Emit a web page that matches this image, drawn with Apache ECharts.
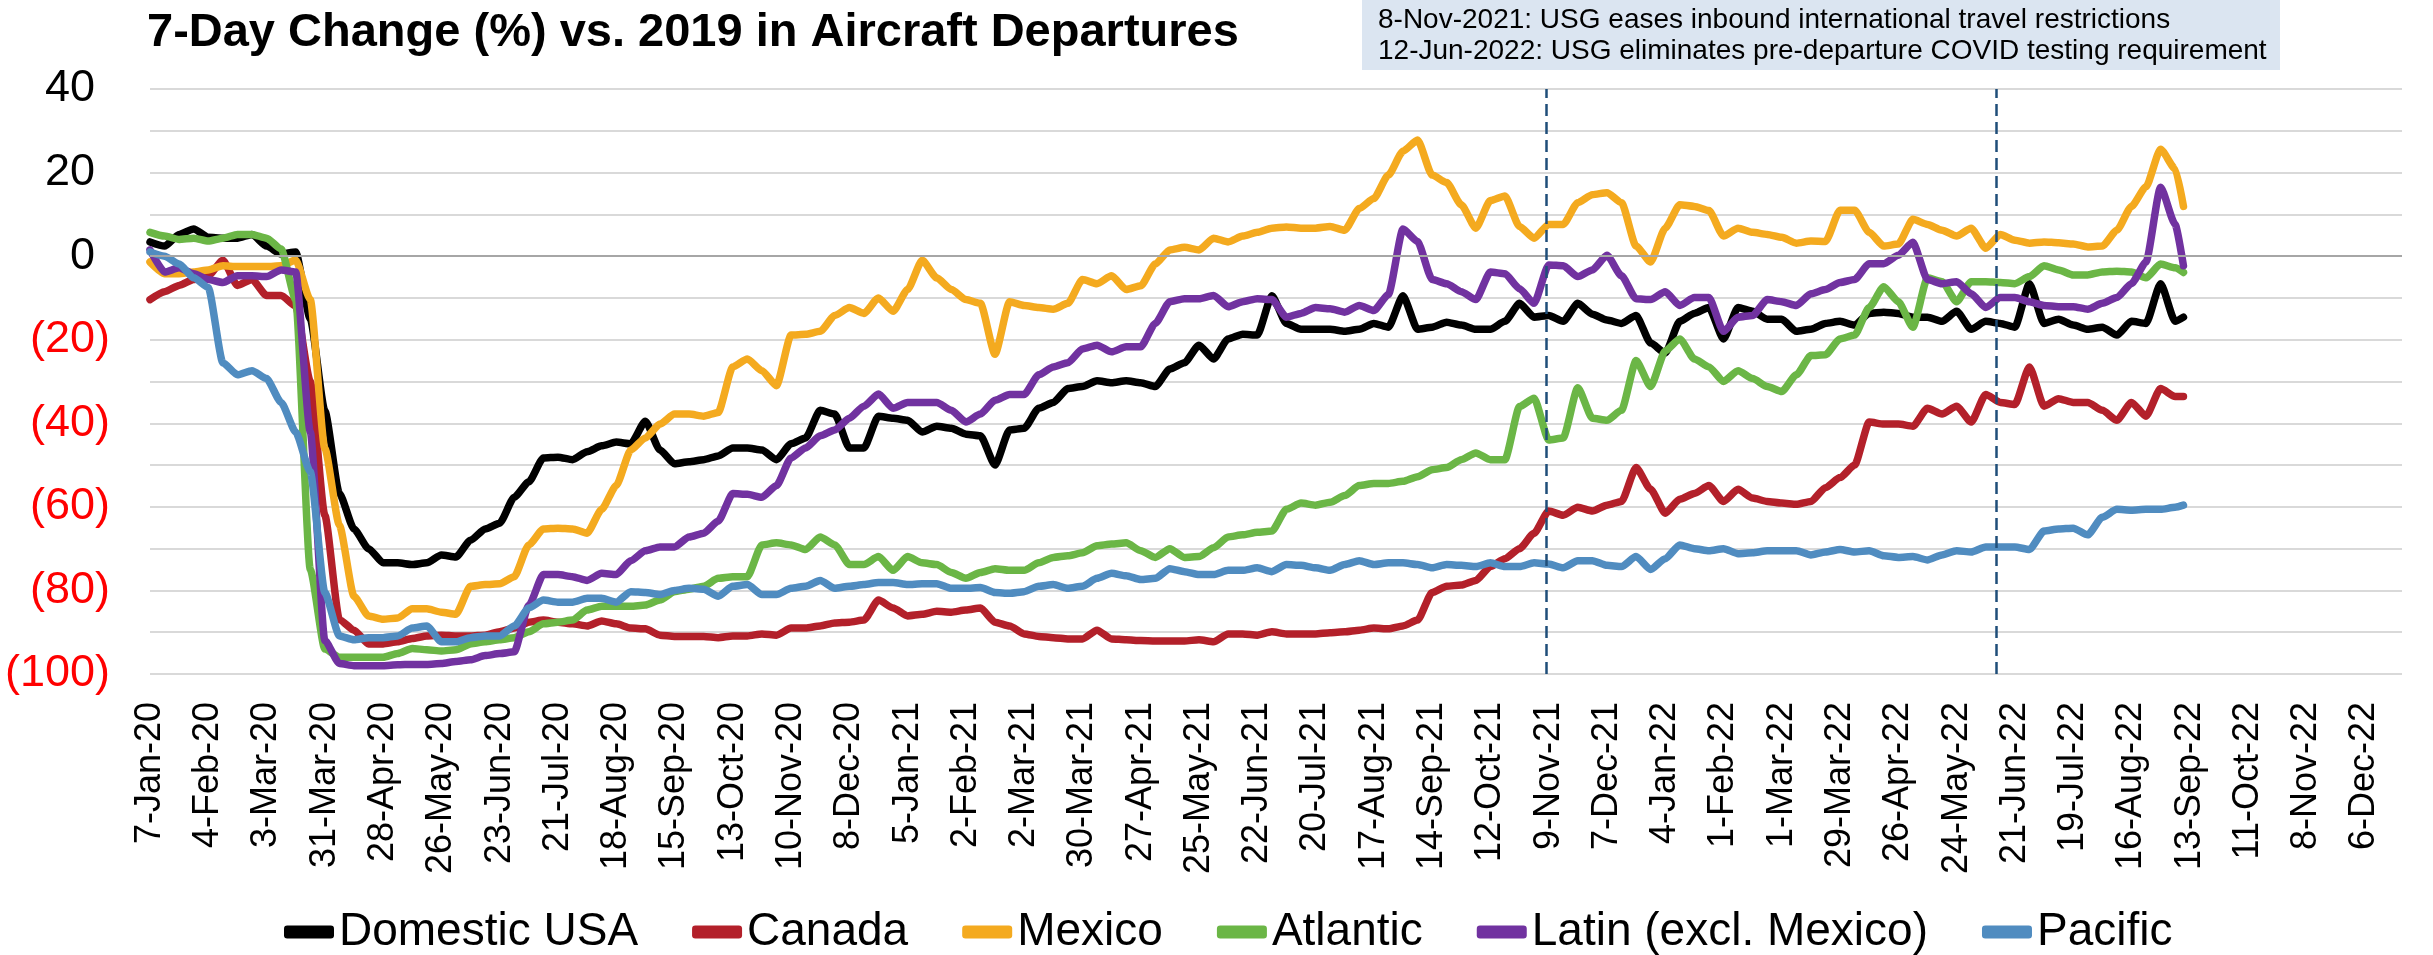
<!DOCTYPE html>
<html>
<head>
<meta charset="utf-8">
<title>7-Day Change (%) vs. 2019 in Aircraft Departures</title>
<script src="https://cdn.jsdelivr.net/npm/echarts@6/dist/echarts.min.js"></script>
<style>
  html, body { margin: 0; padding: 0; background: #ffffff; }
  #chart { width: 2433px; height: 955px; }
</style>
</head>
<body>
<div id="chart"></div>
<script>
// Sample dates, counted in days after 7-Jan-2020 (weekly, plus the last day of data)
const sampleDays = [
  0, 7, 14, 21, 28, 35, 42, 49, 56, 63, 70, 77, 84, 91, 98, 105, 112, 119, 126, 133,
  140, 147, 154, 161, 168, 175, 182, 189, 196, 203, 210, 217, 224, 231, 238, 245, 252, 259, 266, 273,
  280, 287, 294, 301, 308, 315, 322, 329, 336, 343, 350, 357, 364, 371, 378, 385, 392, 399, 406, 413,
  420, 427, 434, 441, 448, 455, 462, 469, 476, 483, 490, 497, 504, 511, 518, 525, 532, 539, 546, 553,
  560, 567, 574, 581, 588, 595, 602, 609, 616, 623, 630, 637, 644, 651, 658, 665, 672, 679, 686, 693,
  700, 707, 714, 721, 728, 735, 742, 749, 756, 763, 770, 777, 784, 791, 798, 805, 812, 819, 826, 833,
  840, 847, 854, 861, 868, 875, 882, 889, 896, 903, 910, 917, 924, 931, 938, 945, 952, 959, 966, 973,
  977
];

// 7-day change (%) vs. 2019, one value per sample date
const domesticUSA = [
  3.4, 2.4, 5.2, 6.5, 4.5, 4.3, 4.3, 5.2, 2.4, 0.5, 1.0, -15, -37, -56.8, -65.3, -70, -73.4, -73.4, -73.8, -73.4,
  -71.5, -72, -68, -65.3, -63.9, -57.7, -54, -48.3,
  -48.1, -48.7, -46.8, -45.4, -44.5, -44.9, -39.5, -46.4, -49.7, -49.2, -48.7, -47.8, -45.9, -45.9, -46.4, -48.7,
  -44.9, -43.5, -36.9, -37.8, -45.9, -45.9, -38.3, -38.8, -39.3, -42.1, -40.7, -41.2,
  -42.6, -43, -50, -41.6, -41.2, -36.4, -35, -31.7, -31.2, -29.8, -30.3, -29.8, -30.3, -31.2, -27, -25.5,
  -21.3, -24.6, -19.8, -18.7, -18.9, -9.5, -16.1, -17.5, -17.5, -17.5, -18, -17.5, -16.1,
  -17, -9.5, -17.5, -17, -15.8, -16.5, -17.5, -17.5, -15.6, -11.3, -14.6, -14.2, -15.6, -11.3, -13.9, -15.3,
  -16.1, -14.2, -20.8, -23.2, -15.6, -13.7, -12.3, -19.8, -12.3, -13.2, -15.1,
  -15.1, -18, -17.5, -16.1, -15.6, -16.5, -13.7, -13.4, -13.7, -14.6, -14.6, -15.6, -13.2, -17.5, -15.6, -16.1,
  -17, -6.6, -16.1, -15.1, -16.5, -17.5, -17, -18.9, -15.6, -16.1, -6.6, -15.6,
  -14.6
];
const canada = [
  -10.4, -8.5, -7, -5.6, -4.7, -1, -7, -5.6, -9.4, -9.4, -12, -30, -62, -87, -89.5, -92.8, -92.8, -92.3, -91.5, -90.9,
  -90.7, -90.9, -90.9, -90.7, -89.9, -89, -87.6, -87.1,
  -87.6, -88, -88.5, -87.3, -88, -89, -89.2, -90.7, -91, -91, -91, -91.3, -90.9, -90.9, -90.4, -90.7,
  -89, -89, -88.5, -87.8, -87.6, -87.1, -82.3, -84.2, -86.1, -85.7, -85, -85.2,
  -84.7, -84.2, -87.6, -88.5, -90.4, -91, -91.3, -91.6, -91.6, -89.5, -91.6, -91.8, -92, -92.1, -92.1, -92.1,
  -91.8, -92.3, -90.4, -90.4, -90.7, -89.9, -90.4, -90.4, -90.4, -90.1, -89.9, -89.5, -89,
  -89.2, -88.5, -87.1, -80.5, -79, -78.7, -77.6, -74.3, -72.4, -70, -66.3, -61, -62, -60.1, -61, -59.6,
  -58.7, -50.6, -55.8, -61.5, -58.2, -56.8, -54.9, -58.7, -55.8, -57.9, -58.7,
  -59.1, -59.4, -58.7, -55.4, -53, -50, -39.7, -40.2, -40.2, -40.7, -36.4, -37.8, -35.9, -39.7, -33.1, -35,
  -35.5, -26.5, -35.9, -34.1, -35, -35, -36.9, -39.3, -35, -38.3, -31.7, -33.6,
  -33.6
];
const mexico = [
  -1.4, -4.2, -4.2, -3.8, -3.3, -2.3, -2.5, -2.5, -2.5, -2.3, -0.9, -10.4, -46, -64.4, -81.4, -86.1, -86.9, -86.6, -84.4, -84.4,
  -85.2, -85.7, -79, -78.6, -78.4, -76.7, -69.1, -65.3,
  -65.1, -65.3, -66.3, -60.6, -54.9, -46.4, -43.5, -40.2, -37.8, -37.8, -38.3, -37.4, -26.5, -24.6, -27.4, -31,
  -18.9, -18.7, -18, -14.2, -12.3, -13.7, -10, -13.2, -8, -1, -5.2, -8,
  -10.4, -11.3, -23.5, -10.9, -11.8, -12.3, -12.7, -11.3, -5.6, -6.6, -4.7, -8, -7.1, -1.9, 1.5, 2.1,
  1.5, 4.3, 3.4, 4.8, 5.7, 6.7, 7, 6.7, 6.7, 7.1, 6.2, 11.4, 13.8,
  19.4, 25.1, 27.8, 19.4, 17.6, 12.3, 6.7, 13.3, 14.4, 7.1, 4.3, 7.6, 7.6, 12.8, 14.7, 15.2,
  12.8, 2.4, -1.4, 6.7, 12.3, 11.9, 10.9, 4.8, 6.7, 5.7, 5.2,
  4.5, 3.1, 3.6, 3.5, 11, 11, 5.7, 2.4, 2.9, 8.8, 7.6, 6.2, 4.8, 6.7, 1.9, 5.2,
  3.8, 3.1, 3.4, 3.2, 2.9, 2.2, 2.4, 6.2, 11.9, 16.6, 25.6, 20.9,
  11.9
];
const atlantic = [
  5.7, 4.8, 4, 4.3, 3.6, 4.3, 5.2, 5.2, 4.3, 1.7, -10.4, -75, -94, -96, -96, -96, -96, -95.1, -93.9, -94.2,
  -94.5, -94.2, -92.8, -92.3, -91.8, -91.3, -89.9, -88,
  -87.6, -87.1, -84.7, -83.8, -83.8, -83.8, -83.5, -82.3, -80.3, -79.7, -79, -77.1, -76.7, -76.7, -69.1, -68.6,
  -69.1, -70.2, -67.2, -69.1, -73.8, -73.8, -71.9, -75.2, -71.9, -73.4, -73.8, -75.7,
  -77.1, -75.7, -74.8, -75.2, -75.2, -73.4, -72.1, -71.7, -71, -69.3, -68.9, -68.6, -70.5, -72.1, -70, -72.1,
  -71.9, -69.8, -67.2, -66.7, -66.1, -65.8, -60.6, -59.1, -59.6, -58.9, -57.3, -54.9, -54.4,
  -54.4, -53.9, -52.8, -51.1, -50.6, -48.7, -47.1, -48.7, -48.7, -36, -34, -44, -43.5, -31.5, -38.8, -39.3,
  -36.9, -25, -31.2, -22.7, -19.8, -24.6, -26.5, -30, -27.4, -29.3, -31.2,
  -32.4, -28.4, -23.8, -23.6, -19.8, -18.9, -12.3, -7.3, -10.9, -17, -5.2, -6.1, -10.9, -6.1, -6.1, -6.3,
  -6.6, -4.9, -2.3, -3.3, -4.5, -4.5, -3.8, -3.6, -3.8, -5.2, -1.9, -2.8,
  -3.9
];
const latinExclMexico = [
  1.5, -3.8, -2.8, -4.2, -5.6, -6.3, -4.7, -4.7, -4.9, -3.3, -3.8, -42, -92, -97.5, -98, -98, -98, -97.8, -97.7, -97.7,
  -97.5, -97, -96.6, -95.6, -95.1, -94.7, -83.6, -76.2,
  -76.2, -76.7, -77.6, -75.9, -76.2, -72.9, -70.5, -69.6, -69.6, -67.2, -66.3, -63.4, -56.8, -57, -57.7, -54.9,
  -48.3, -45.9, -43, -41.6, -38.8, -35.9, -33, -36.4, -35, -35, -35, -36.9,
  -39.7, -37.8, -34.5, -33.1, -33.1, -28.4, -26.5, -25.5, -22.2, -21.3, -22.9, -21.7, -21.7, -16.1, -10.9, -10.2,
  -10.2, -9.4, -12.1, -10.9, -10.2, -10.4, -14.6, -13.7, -12.3, -12.6, -13.4, -11.8, -13,
  -9.2, 6.5, 3.5, -5.6, -6.6, -8.5, -10.4, -3.8, -4.2, -7.8, -11.3, -2.1, -2.3, -4.9, -3.3, 0.2,
  -4.7, -10.2, -10.4, -8.5, -11.8, -9.9, -9.9, -18, -14.6, -14.2, -10.4,
  -10.9, -11.8, -9, -8, -6.3, -5.6, -1.8, -1.8, 0.2, 3.3, -5.6, -6.6, -6.1, -9, -12.3, -9.9,
  -9.9, -10.9, -11.8, -12.1, -12.1, -12.7, -11.3, -9.9, -6.6, -1.4, 16.5, 7.6,
  -2.3
];
const pacific = [
  1, 0, -1.9, -5.2, -7.5, -25.5, -28.4, -27.4, -29.3, -35, -42.1, -51.6, -80.5, -90.9, -91.8, -91.3, -91.3, -90.9, -89, -88.5,
  -92.3, -92.3, -91.3, -90.9, -90.9, -88.5, -84.2, -82.3,
  -82.8, -82.8, -81.9, -81.9, -82.8, -80.3, -80.5, -81, -80, -79.5, -79.7, -81.4, -79, -78.6, -81, -81,
  -79.5, -79, -77.6, -79.5, -79, -78.6, -78.1, -78.1, -78.6, -78.4, -78.4, -79.5,
  -79.5, -79.3, -80.5, -80.7, -80.3, -79, -78.6, -79.5, -79, -77.1, -75.9, -76.5, -77.4, -77.1, -74.8, -75.5,
  -76.2, -76.2, -75.2, -75.2, -74.6, -75.5, -73.8, -74, -74.6, -75.2, -73.8, -72.9, -73.8,
  -73.4, -73.4, -73.8, -74.6, -73.8, -74, -74.3, -73.4, -74.3, -74.3, -73.4, -73.7, -74.6, -72.9, -72.9, -74,
  -74.3, -71.9, -75, -72.4, -69.1, -70, -70.5, -70, -71.2, -71, -70.5,
  -70.5, -70.5, -71.5, -70.8, -70.2, -70.8, -70.5, -71.7, -72.1, -71.9, -72.7, -71.5, -70.5, -70.8, -69.6, -69.6,
  -69.6, -70.2, -65.8, -65.3, -65.1, -66.7, -62.5, -60.6, -60.8, -60.6, -60.6, -60.1,
  -59.6
];

const seriesNames = ['Domestic USA', 'Canada', 'Mexico', 'Atlantic', 'Latin (excl. Mexico)', 'Pacific'];
const seriesValues = [domesticUSA, canada, mexico, atlantic, latinExclMexico, pacific];
const seriesColors = ['#000000', '#b3202a', '#f4aa1f', '#6bb646', '#7132a0', '#508cc0'];

// Policy dates (days after 7-Jan-2020) and their notes
const eventDays = [671, 887];
const eventNotes = [
  '8-Nov-2021: USG eases inbound international travel restrictions',
  '12-Jun-2022: USG eliminates pre-departure COVID testing requirement'
];

const titleText = '7-Day Change (%) vs. 2019 in Aircraft Departures';
const yTickStep = 20;
const xTickStep = 28;

const MONTHS = ['Jan', 'Feb', 'Mar', 'Apr', 'May', 'Jun', 'Jul', 'Aug', 'Sep', 'Oct', 'Nov', 'Dec'];
const START = Date.UTC(2020, 0, 7);
function dayLabel(d) {
  const dt = new Date(START + d * 86400000);
  return dt.getUTCDate() + '-' + MONTHS[dt.getUTCMonth()] + '-' + String(dt.getUTCFullYear()).slice(2);
}

const FONT = '"Liberation Sans", Arial, sans-serif';
const chart = echarts.init(document.getElementById('chart'), null, { renderer: 'canvas' });

const series = seriesNames.map((name, k) => {
  const s = {
    name: name,
    type: 'line',
    data: sampleDays.map((d, i) => [d, seriesValues[k][i]]),
    showSymbol: false,
    symbol: 'none',
    smooth: 0.2,
    smoothMonotone: 'x',
    lineStyle: { width: 7.5, color: seriesColors[k], cap: 'round', join: 'round' },
    itemStyle: { color: seriesColors[k] },
    emphasis: { disabled: true },
    animation: false
  };
  if (k === 0) {
    // zero reference line beneath the data
    s.markLine = {
      silent: true, symbol: ['none', 'none'], label: { show: false },
      lineStyle: { color: '#a6a6a6', width: 2, type: 'solid' },
      data: [{ yAxis: 0 }]
    };
  }
  if (k === seriesNames.length - 1) {
    // policy dates drawn on top of the lines
    s.markLine = {
      silent: true, symbol: ['none', 'none'], label: { show: false },
      lineStyle: { color: '#1f4e79', width: 2.5, type: [12, 6] },
      data: eventDays.map(d => ({ xAxis: d }))
    };
  }
  return s;
});

chart.setOption({
  animation: false,
  backgroundColor: '#ffffff',
  grid: { left: 150, right: 31, top: 89, bottom: 281, containLabel: false, outerBoundsMode: 'none' },
  xAxis: {
    type: 'value',
    min: 0,
    max: 1082,
    interval: xTickStep,
    axisLine: { show: false },
    axisTick: { show: false },
    splitLine: { show: false },
    axisLabel: {
      rotate: 90,
      margin: 28,
      color: '#000000',
      fontFamily: FONT,
      fontSize: 36,
      showMinLabel: true,
      showMaxLabel: true,
      formatter: v => (v % xTickStep === 0 ? dayLabel(v) : '')
    }
  },
  yAxis: {
    type: 'value',
    min: -100,
    max: 40,
    interval: 10,
    axisLine: { show: false },
    axisTick: { show: false },
    splitLine: { show: true, lineStyle: { color: '#d9d9d9', width: 2 } },
    axisLabel: {
      margin: 40,
      fontFamily: FONT,
      fontSize: 45,
      formatter: v => {
        if (v % yTickStep !== 0) return '';
        return v < 0 ? '{neg|(' + (-v) + ')}' : '{pos|' + v + '}';
      },
      rich: {
        neg: { color: '#ff0000', fontFamily: FONT, fontSize: 45 },
        pos: { color: '#000000', fontFamily: FONT, fontSize: 45, padding: [0, 15, 0, 0] }
      }
    }
  },
  legend: {
    data: seriesNames,
    left: 279,
    top: 904,
    icon: 'roundRect',
    itemWidth: 50,
    itemHeight: 13,
    itemGap: 54,
    textStyle: { fontFamily: FONT, fontSize: 46, color: '#000000' },
    selectedMode: false
  },
  graphic: [
    {
      type: 'text', x: 147, y: 33, silent: true,
      style: { text: titleText, font: 'bold 47px ' + FONT, fill: '#000000', align: 'left', verticalAlign: 'middle' }
    },
    {
      type: 'rect', silent: true,
      shape: { x: 1362, y: 0, width: 918, height: 70 },
      style: { fill: '#dbe5f1' }
    },
    {
      type: 'text', x: 1378, y: 20, silent: true,
      style: { text: eventNotes[0], font: '28px ' + FONT, fill: '#000000', align: 'left', verticalAlign: 'middle' }
    },
    {
      type: 'text', x: 1378, y: 51, silent: true,
      style: { text: eventNotes[1], font: '28px ' + FONT, fill: '#000000', align: 'left', verticalAlign: 'middle' }
    }
  ],
  series: series
});
</script>
</body>
</html>
